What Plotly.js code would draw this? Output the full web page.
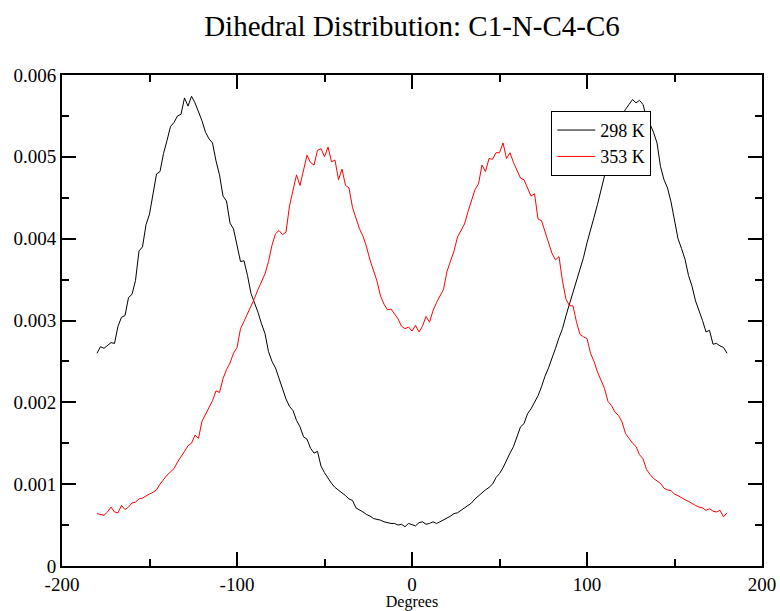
<!DOCTYPE html>
<html>
<head>
<meta charset="utf-8">
<script src="https://cdn.plot.ly/plotly-3.0.1.min.js"></script>
<style>html,body{margin:0;padding:0;background:#fff;}#chart{width:780px;height:611px;}</style>
</head>
<body>
<div id="chart"></div>
<script>
// Dihedral angle (degrees), 2-degree bins from -180 to 180
const angles = [];
for (let a = -180; a <= 180; a += 2) angles.push(a);

// Probability density, in units of 1e-3
const p298 = [2.60,2.68,2.66,2.70,2.73,2.72,2.93,3.04,3.06,3.28,3.32,3.49,3.85,3.90,4.17,4.30,4.55,4.79,4.82,5.04,
5.20,5.37,5.42,5.50,5.52,5.72,5.62,5.74,5.66,5.55,5.44,5.30,5.22,5.17,4.95,4.78,4.52,4.46,4.19,4.12,
3.92,3.72,3.73,3.55,3.33,3.22,3.10,2.96,2.84,2.62,2.50,2.42,2.30,2.16,2.04,1.95,1.90,1.78,1.70,1.58,
1.55,1.44,1.38,1.40,1.22,1.14,1.07,1.01,0.96,0.93,0.90,0.86,0.82,0.80,0.71,0.69,0.66,0.63,0.61,0.58,
0.57,0.56,0.54,0.53,0.52,0.52,0.50,0.51,0.48,0.52,0.50,0.49,0.53,0.54,0.51,0.52,0.54,0.52,0.54,0.56,
0.58,0.61,0.64,0.65,0.68,0.71,0.73,0.77,0.82,0.86,0.89,0.93,0.96,1.00,1.08,1.13,1.20,1.30,1.38,1.46,
1.57,1.70,1.74,1.86,1.92,2.00,2.08,2.19,2.32,2.42,2.53,2.66,2.79,2.90,3.06,3.20,3.37,3.50,3.65,3.77,
3.95,4.12,4.26,4.42,4.60,4.75,4.94,5.10,5.25,5.38,5.50,5.58,5.64,5.70,5.66,5.69,5.64,5.48,5.40,5.30,
5.17,4.88,4.72,4.62,4.45,4.22,4.00,3.88,3.75,3.55,3.42,3.24,3.13,3.00,2.86,2.88,2.71,2.72,2.69,2.67,
2.60];
const p353 = [0.64,0.63,0.62,0.66,0.72,0.66,0.65,0.74,0.69,0.72,0.77,0.78,0.82,0.83,0.86,0.88,0.90,0.93,1.00,1.06,
1.11,1.15,1.19,1.27,1.33,1.40,1.47,1.50,1.60,1.56,1.77,1.86,1.94,2.02,2.14,2.12,2.29,2.40,2.48,2.60,
2.67,2.90,2.99,3.08,3.17,3.27,3.38,3.47,3.57,3.72,3.92,4.06,4.10,4.05,4.08,4.40,4.58,4.78,4.65,4.84,
5.02,4.93,4.90,5.08,5.10,5.00,5.12,4.94,4.96,4.72,4.85,4.65,4.62,4.38,4.25,4.12,4.03,3.90,3.74,3.60,
3.48,3.30,3.20,3.13,3.14,3.08,3.02,2.93,2.90,2.92,2.87,2.94,2.86,2.93,3.05,2.98,3.12,3.22,3.30,3.38,
3.60,3.72,3.85,4.02,4.10,4.18,4.33,4.46,4.60,4.67,4.90,4.82,4.98,4.97,5.05,5.05,5.17,4.98,5.05,4.93,
4.83,4.74,4.72,4.63,4.52,4.55,4.24,4.22,4.08,3.95,3.82,3.74,3.78,3.48,3.26,3.18,3.18,2.98,2.83,2.80,
2.78,2.60,2.50,2.37,2.26,2.17,2.01,1.96,1.88,1.84,1.76,1.62,1.56,1.50,1.46,1.36,1.31,1.18,1.12,1.07,
1.04,1.01,0.95,0.93,0.92,0.88,0.86,0.83,0.81,0.79,0.76,0.74,0.72,0.71,0.68,0.70,0.67,0.66,0.68,0.60,
0.65];

const seriesNames = ["298 K", "353 K"];
const xTickVals = [-200, -100, 0, 100, 200];
const xTickText = ["-200", "-100", "0", "100", "200"];
const yTickVals = [0, 0.001, 0.002, 0.003, 0.004, 0.005, 0.006];
const yTickText = ["0", "0.001", "0.002", "0.003", "0.004", "0.005", "0.006"];

const serif = "Liberation Serif, Times New Roman, serif";

const traces = [
  {x: angles, y: p298.map(v => v / 1000), name: seriesNames[0], type: "scatter", mode: "lines",
   line: {color: "#000000", width: 1}},
  {x: angles, y: p353.map(v => v / 1000), name: seriesNames[1], type: "scatter", mode: "lines",
   line: {color: "#ff0000", width: 1}}
];

const axisCommon = {
  showline: true, linecolor: "#000", linewidth: 2, mirror: "ticks",
  ticks: "inside", ticklen: 14, tickwidth: 2, tickcolor: "#000",
  showgrid: false, zeroline: false,
  tickfont: {family: serif, size: 19, color: "#000"}
};

const layout = {
  width: 780, height: 611,
  margin: {l: 62, r: 18, t: 75, b: 45},
  paper_bgcolor: "#fff", plot_bgcolor: "#fff",
  font: {family: serif, color: "#000"},
  title: {text: "Dihedral Distribution: C1-N-C4-C6", font: {family: serif, size: 29, color: "#000"},
          x: 0.5, xref: "paper", y: 1 - 26 / 611, yref: "container", yanchor: "middle"},
  xaxis: Object.assign({}, axisCommon, {
    range: [-200, 200], tickmode: "array", tickvals: xTickVals, ticktext: xTickText,
    minor: {tickmode: "linear", tick0: 0, dtick: 50, ticks: "inside", ticklen: 7, tickwidth: 2, tickcolor: "#000", showgrid: false},
    title: {text: "Degrees", font: {family: serif, size: 16, color: "#000"}, standoff: 3}
  }),
  yaxis: Object.assign({}, axisCommon, {
    range: [0, 0.006], tickmode: "array", tickvals: yTickVals, ticktext: yTickText,
    minor: {tickmode: "linear", tick0: 0, dtick: 0.0005, ticks: "inside", ticklen: 7, tickwidth: 2, tickcolor: "#000", showgrid: false}
  }),
  legend: {x: 0.699, y: 0.927, xanchor: "left", yanchor: "top", bgcolor: "#fff",
           bordercolor: "#000", borderwidth: 1, font: {family: serif, size: 18, color: "#000"},
           tracegroupgap: 0, itemwidth: 38},
  showlegend: true
};

Plotly.newPlot("chart", traces, layout, {displayModeBar: false, staticPlot: true});
</script>
</body>
</html>
